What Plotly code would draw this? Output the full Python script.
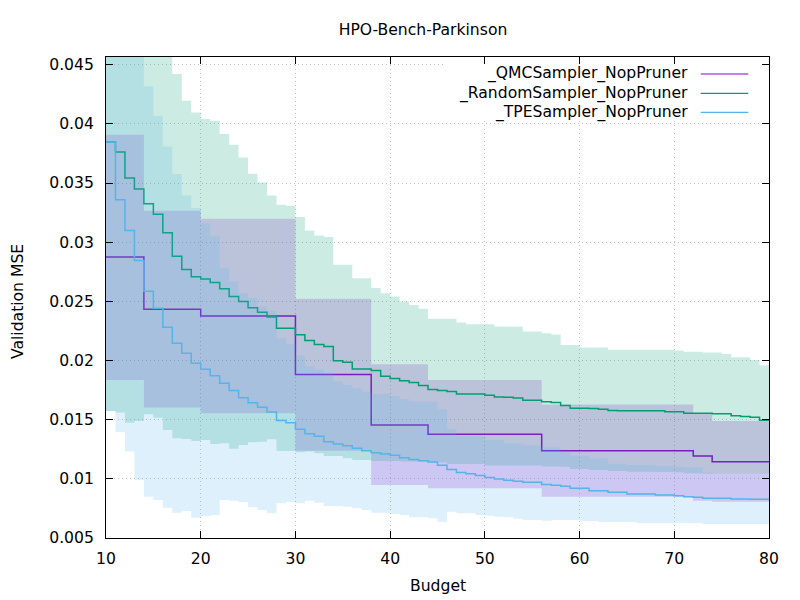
import plotly.graph_objects as go

# ---------------- data ----------------
budget = list(range(10, 81))

# QMC sampler: best-so-far only changes at these budgets
qmc_budget = [10, 14, 20, 30, 38, 44, 56, 72, 74, 80]
qmc_mean = [0.02874, 0.02434, 0.02377, 0.01881, 0.01455, 0.01377, 0.01238, 0.01193, 0.01145, 0.01145]
qmc_upper = [0.03908, 0.03265, 0.03198, 0.02521, 0.01969, 0.01836, 0.01629, 0.01557, 0.01489, 0.01489]
qmc_lower = [0.01836, 0.01602, 0.01554, 0.01237, 0.00948, 0.00920, 0.00849, 0.00815, 0.00807, 0.00807]

random_mean = [
    0.03846, 0.03762, 0.03542, 0.03449, 0.03324, 0.03237, 0.03079, 0.02882, 0.02769, 0.02707,
    0.02688, 0.02659, 0.02606, 0.02542, 0.02498, 0.02445, 0.02407, 0.02367, 0.02273, 0.02273,
    0.02217, 0.02170, 0.02136, 0.02118, 0.01999, 0.01986, 0.01929, 0.01929, 0.01915, 0.01867,
    0.01847, 0.01829, 0.01815, 0.01788, 0.01756, 0.01747, 0.01739, 0.01716, 0.01716, 0.01716,
    0.01707, 0.01692, 0.01690, 0.01684, 0.01665, 0.01665, 0.01652, 0.01646, 0.01620, 0.01597,
    0.01597, 0.01595, 0.01588, 0.01578, 0.01576, 0.01576, 0.01576, 0.01576, 0.01576, 0.01568,
    0.01568, 0.01554, 0.01554, 0.01554, 0.01549, 0.01549, 0.01534, 0.01526, 0.01521, 0.01495,
    0.01495]
random_upper = [
    0.05200, 0.05100, 0.05000, 0.04900, 0.04820, 0.04740, 0.04660, 0.04421, 0.04196, 0.04097,
    0.04041, 0.04026, 0.03914, 0.03823, 0.03716, 0.03578, 0.03505, 0.03395, 0.03316, 0.03308,
    0.03212, 0.03099, 0.03056, 0.03043, 0.02809, 0.02809, 0.02696, 0.02696, 0.02612, 0.02569,
    0.02541, 0.02498, 0.02470, 0.02437, 0.02352, 0.02352, 0.02352, 0.02321, 0.02307, 0.02307,
    0.02307, 0.02287, 0.02287, 0.02287, 0.02245, 0.02245, 0.02231, 0.02220, 0.02132, 0.02132,
    0.02109, 0.02109, 0.02109, 0.02090, 0.02090, 0.02090, 0.02090, 0.02090, 0.02090, 0.02090,
    0.02084, 0.02073, 0.02073, 0.02067, 0.02067, 0.02056, 0.02028, 0.02028, 0.02005, 0.01959,
    0.01959]
random_lower = [
    0.01574, 0.01560, 0.01475, 0.01489, 0.01546, 0.01517, 0.01413, 0.01343, 0.01337, 0.01320,
    0.01329, 0.01295, 0.01301, 0.01255, 0.01286, 0.01309, 0.01314, 0.01335, 0.01236, 0.01236,
    0.01225, 0.01230, 0.01216, 0.01193, 0.01193, 0.01174, 0.01160, 0.01160, 0.01151, 0.01151,
    0.01151, 0.01147, 0.01147, 0.01147, 0.01138, 0.01138, 0.01126, 0.01126, 0.01126, 0.01126,
    0.01113, 0.01113, 0.01113, 0.01113, 0.01113, 0.01113, 0.01105, 0.01105, 0.01103, 0.01083,
    0.01083, 0.01075, 0.01075, 0.01066, 0.01066, 0.01060, 0.01060, 0.01060, 0.01058, 0.01058,
    0.01056, 0.01047, 0.01047, 0.01044, 0.01044, 0.01044, 0.01044, 0.01044, 0.01044, 0.01044,
    0.01044]

tpe_mean = [
    0.03846, 0.03358, 0.03099, 0.02845, 0.02586, 0.02442, 0.02282, 0.02146, 0.02062, 0.01977,
    0.01927, 0.01872, 0.01808, 0.01746, 0.01686, 0.01644, 0.01605, 0.01565, 0.01494, 0.01475,
    0.01419, 0.01382, 0.01360, 0.01314, 0.01295, 0.01280, 0.01258, 0.01238, 0.01221, 0.01210,
    0.01200, 0.01178, 0.01164, 0.01152, 0.01143, 0.01114, 0.01078, 0.01054, 0.01044, 0.01029,
    0.01012, 0.00999, 0.00989, 0.00980, 0.00971, 0.00971, 0.00952, 0.00946, 0.00937, 0.00920,
    0.00920, 0.00900, 0.00900, 0.00886, 0.00886, 0.00872, 0.00872, 0.00872, 0.00864, 0.00864,
    0.00858, 0.00849, 0.00844, 0.00836, 0.00836, 0.00836, 0.00830, 0.00830, 0.00827, 0.00827,
    0.00827]
tpe_upper = [
    0.05000, 0.04920, 0.04840, 0.04760, 0.04317, 0.04069, 0.03809, 0.03576, 0.03395, 0.03288,
    0.03161, 0.03048, 0.02781, 0.02667, 0.02569, 0.02527, 0.02456, 0.02420, 0.02189, 0.02140,
    0.02042, 0.01949, 0.01921, 0.01893, 0.01822, 0.01794, 0.01766, 0.01737, 0.01718, 0.01718,
    0.01701, 0.01675, 0.01653, 0.01653, 0.01653, 0.01588, 0.01419, 0.01363, 0.01363, 0.01363,
    0.01329, 0.01329, 0.01300, 0.01300, 0.01284, 0.01284, 0.01267, 0.01267, 0.01230, 0.01196,
    0.01196, 0.01174, 0.01174, 0.01128, 0.01128, 0.01117, 0.01117, 0.01117, 0.01109, 0.01109,
    0.01103, 0.01095, 0.01095, 0.01052, 0.01044, 0.01044, 0.01044, 0.01044, 0.01044, 0.01044,
    0.01044]
tpe_lower = [
    0.01574, 0.01394, 0.01230, 0.00990, 0.00849, 0.00821, 0.00756, 0.00714, 0.00728, 0.00672,
    0.00686, 0.00694, 0.00821, 0.00815, 0.00802, 0.00760, 0.00737, 0.00709, 0.00793, 0.00807,
    0.00793, 0.00815, 0.00798, 0.00771, 0.00771, 0.00765, 0.00751, 0.00737, 0.00714, 0.00714,
    0.00703, 0.00694, 0.00675, 0.00675, 0.00667, 0.00638, 0.00722, 0.00709, 0.00709, 0.00694,
    0.00689, 0.00680, 0.00675, 0.00663, 0.00652, 0.00652, 0.00646, 0.00652, 0.00652, 0.00652,
    0.00644, 0.00644, 0.00635, 0.00635, 0.00635, 0.00635, 0.00624, 0.00624, 0.00624, 0.00624,
    0.00624, 0.00624, 0.00624, 0.00618, 0.00618, 0.00618, 0.00618, 0.00618, 0.00618, 0.00618,
    0.00618]

series_names = ["_QMCSampler_NopPruner", "_RandomSampler_NopPruner", "_TPESampler_NopPruner"]
line_colors = ["#9400d3", "#009e73", "#56b4e9"]
fill_colors = ["rgba(148,0,211,0.2)", "rgba(0,158,115,0.2)", "rgba(86,180,233,0.2)"]

y_tickvals = [0.005, 0.01, 0.015, 0.02, 0.025, 0.03, 0.035, 0.04, 0.045]
y_ticktext = ["0.005", "0.01", "0.015", "0.02", "0.025", "0.03", "0.035", "0.04", "0.045"]
x_tickvals = [10, 20, 30, 40, 50, 60, 70, 80]

# ---------------- figure ----------------
FONT = "DejaVu Sans"
FS = 15.6
fig = go.Figure()

datasets = [
    (qmc_budget, qmc_mean, qmc_upper, qmc_lower),
    (budget, random_mean, random_upper, random_lower),
    (budget, tpe_mean, tpe_upper, tpe_lower),
]

for (xs, m, up, lo), name, lc, fc in zip(datasets, series_names, line_colors, fill_colors):
    fig.add_trace(go.Scatter(x=xs, y=lo, mode="lines", line=dict(width=0, shape="hv"),
                             showlegend=False, hoverinfo="skip"))
    fig.add_trace(go.Scatter(x=xs, y=up, mode="lines", line=dict(width=0, shape="hv"),
                             fill="tonexty", fillcolor=fc, showlegend=False, hoverinfo="skip"))
    fig.add_trace(go.Scatter(x=xs, y=m, mode="lines", name=name,
                             line=dict(color=lc, width=1.5, shape="hv"), showlegend=False))

axis_common = dict(
    showline=True, linecolor="black", linewidth=1, mirror="ticks",
    ticks="inside", ticklen=7, tickwidth=1, tickcolor="black",
    showgrid=True, gridcolor="#c4c4c4", griddash="1px,3px", gridwidth=1,
    zeroline=False, tickfont=dict(family=FONT, size=FS, color="black"),
)

fig.update_xaxes(range=[10, 80], tickvals=x_tickvals, ticklabelstandoff=6, **axis_common)
fig.update_yaxes(range=[0.005, 0.04565], tickvals=y_tickvals, ticktext=y_ticktext,
                 ticklabelstandoff=8, **axis_common)

# page places the figure 8px in from the top-left corner
OFF = 8
W, H = 792, 592
L, T = 106 - OFF, 57 - OFF
R = W + OFF - 769
B = H + OFF - 538
pw, ph = W - L - R, H - T - B


def px2x(px):
    return (px - OFF - L) / pw


def py2y(py):
    return (H - B - (py - OFF)) / ph


shapes = [
    # legend background box (hides grid behind the key)
    dict(type="rect", xref="paper", yref="paper", x0=px2x(445), x1=px2x(761),
         y0=py2y(121), y1=py2y(64), fillcolor="white", line=dict(width=0), layer="above"),
]
annotations = [
    dict(text="Validation MSE", xref="paper", yref="paper", x=px2x(18), y=py2y(302),
         textangle=-90, showarrow=False, xanchor="center", yanchor="middle",
         font=dict(family=FONT, size=FS, color="black")),
    dict(text="Budget", xref="paper", yref="paper", x=px2x(437.5), y=py2y(586),
         showarrow=False, xanchor="center", yanchor="middle",
         font=dict(family=FONT, size=FS, color="black")),
]
legend_rows = [74, 93.3, 112.3]
for name, lc, ry in zip(series_names, line_colors, legend_rows):
    annotations.append(dict(text=name, xref="paper", yref="paper", x=px2x(689.5), y=py2y(ry),
                            showarrow=False, xanchor="right", yanchor="middle",
                            font=dict(family=FONT, size=FS, color="black")))
    shapes.append(dict(type="line", xref="paper", yref="paper", x0=px2x(700.7), x1=px2x(748.3),
                       y0=py2y(ry), y1=py2y(ry), line=dict(color=lc, width=1.2), layer="above"))

fig.update_layout(
    width=W, height=H,
    margin=dict(l=L, r=R, t=T, b=B),
    paper_bgcolor="white", plot_bgcolor="white",
    title=dict(text="HPO-Bench-Parkinson", x=(423 - OFF) / W, xref="container", xanchor="center",
               y=1 - (30 - OFF) / H, yref="container", yanchor="middle",
               font=dict(family=FONT, size=FS, color="black")),
    shapes=shapes, annotations=annotations,
    showlegend=False,
)

fig.write_html("out.html")
